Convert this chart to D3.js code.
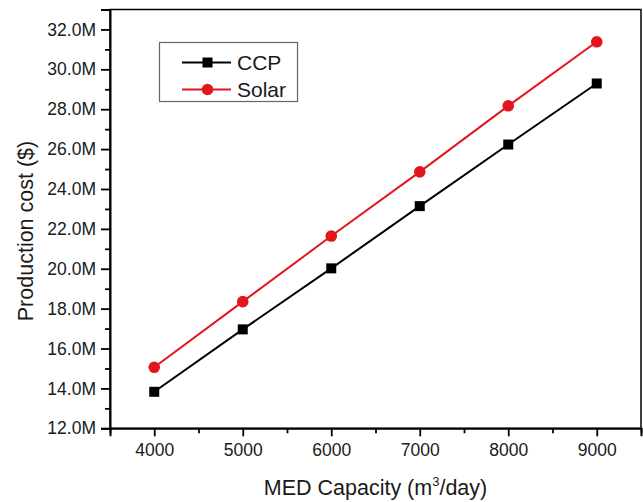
<!DOCTYPE html>
<html>
<head>
<meta charset="utf-8">
<script src="https://cdn.jsdelivr.net/npm/d3@7"></script>
<style>
  html, body { margin: 0; padding: 0; background: #fff; }
  svg { display: block; font-family: "Liberation Sans", Arial, sans-serif; }
</style>
</head>
<body>
<svg id="chart" width="643" height="502"></svg>
<script>
const capacities = [4000, 5000, 6000, 7000, 8000, 9000];
const ccp = [13.83, 16.96, 20.02, 23.14, 26.23, 29.29];
const solar = [15.06, 18.35, 21.64, 24.86, 28.17, 31.38];
const yMajorTicks = [12, 14, 16, 18, 20, 22, 24, 26, 28, 30, 32];
const yMinorTicks = [13, 15, 17, 19, 21, 23, 25, 27, 29, 31];
const xMajorTicks = [4000, 5000, 6000, 7000, 8000, 9000];
const xMinorTicks = [3500, 4500, 5500, 6500, 7500, 8500, 9500];

const svg = d3.select("#chart");
const L = 110, R = 641, T = 9.5, B = 428.3;
const txt = "#1a1a1a";

const x = d3.scaleLinear().domain([3500, 9500]).range([L, R]);
const y = d3.scaleLinear().domain([12, 33]).range([B, T]);

// frame
svg.append("rect")
  .attr("x", L).attr("y", T).attr("width", R - L).attr("height", B - T)
  .attr("fill", "none").attr("stroke", "#000").attr("stroke-width", 1.5);

// y axis
const yAxis = svg.append("g").attr("transform", `translate(${L},0)`)
  .call(d3.axisLeft(y).tickValues(yMajorTicks).tickSize(9).tickPadding(5)
    .tickFormat(d => d3.format(".1f")(d) + "M"));
yAxis.select(".domain").attr("stroke-width", 2);
yAxis.selectAll(".tick line").attr("stroke-width", 1.8);
yAxis.selectAll(".tick text").attr("font-size", 17.5).attr("fill", txt)
  .attr("font-family", "Liberation Sans, Arial, sans-serif");
const yMinor = svg.append("g").attr("transform", `translate(${L},0)`)
  .call(d3.axisLeft(y).tickValues(yMinorTicks).tickSize(5).tickFormat(""));
yMinor.select(".domain").remove();
yMinor.selectAll(".tick line").attr("stroke-width", 1.8);

// x axis
const xAxis = svg.append("g").attr("transform", `translate(0,${B})`)
  .call(d3.axisBottom(x).tickValues(xMajorTicks).tickSize(8).tickPadding(7)
    .tickFormat(d3.format("d")));
xAxis.select(".domain").attr("stroke-width", 2);
xAxis.selectAll(".tick line").attr("stroke-width", 1.8);
xAxis.selectAll(".tick text").attr("font-size", 17.5).attr("fill", txt)
  .attr("font-family", "Liberation Sans, Arial, sans-serif");
const xMinor = svg.append("g").attr("transform", `translate(0,${B})`)
  .call(d3.axisBottom(x).tickValues(xMinorTicks).tickSize(5).tickFormat(""));
xMinor.select(".domain").remove();
xMinor.selectAll(".tick line").attr("stroke-width", 1.8);

// axis titles
const xt = svg.append("text")
  .attr("x", (L + R) / 2).attr("y", 495)
  .attr("text-anchor", "middle").attr("font-size", 21.5).attr("fill", txt);
xt.append("tspan").text("MED Capacity (m");
xt.append("tspan").attr("font-size", 13).attr("dy", -9).text("3");
xt.append("tspan").attr("dy", 9).text("/day)");

svg.append("text")
  .attr("transform", `translate(33,${231}) rotate(-90)`)
  .attr("text-anchor", "middle").attr("font-size", 21.5).attr("fill", txt)
  .text("Production cost ($)");

// series
const red = "#e3161d";
const line = d3.line().x((d, i) => x(capacities[i])).y(d => y(d));

svg.append("path").datum(ccp).attr("d", line)
  .attr("fill", "none").attr("stroke", "#000").attr("stroke-width", 2);
svg.append("path").datum(solar).attr("d", line)
  .attr("fill", "none").attr("stroke", red).attr("stroke-width", 2);

svg.selectAll(".sq").data(ccp).join("rect")
  .attr("x", (d, i) => x(capacities[i]) - 5)
  .attr("y", d => y(d) - 5)
  .attr("width", 10).attr("height", 10).attr("fill", "#000");

svg.selectAll(".ci").data(solar).join("circle")
  .attr("cx", (d, i) => x(capacities[i]))
  .attr("cy", d => y(d))
  .attr("r", 5.8).attr("fill", red);

// legend
const lg = svg.append("g");
lg.append("rect").attr("x", 159.5).attr("y", 42.5).attr("width", 138).attr("height", 59)
  .attr("fill", "#fff").attr("stroke", "#666").attr("stroke-width", 1.2);
lg.append("line").attr("x1", 182).attr("x2", 231).attr("y1", 62.5).attr("y2", 62.5)
  .attr("stroke", "#000").attr("stroke-width", 2);
lg.append("rect").attr("x", 202.5).attr("y", 57.5).attr("width", 10).attr("height", 10).attr("fill", "#000");
lg.append("line").attr("x1", 182).attr("x2", 231).attr("y1", 89.5).attr("y2", 89.5)
  .attr("stroke", red).attr("stroke-width", 2);
lg.append("circle").attr("cx", 207.5).attr("cy", 89.5).attr("r", 5.8).attr("fill", red);
lg.append("text").attr("x", 237).attr("y", 70).attr("font-size", 21).attr("fill", txt).text("CCP");
lg.append("text").attr("x", 237).attr("y", 97).attr("font-size", 21).attr("fill", txt).text("Solar");
</script>
</body>
</html>
